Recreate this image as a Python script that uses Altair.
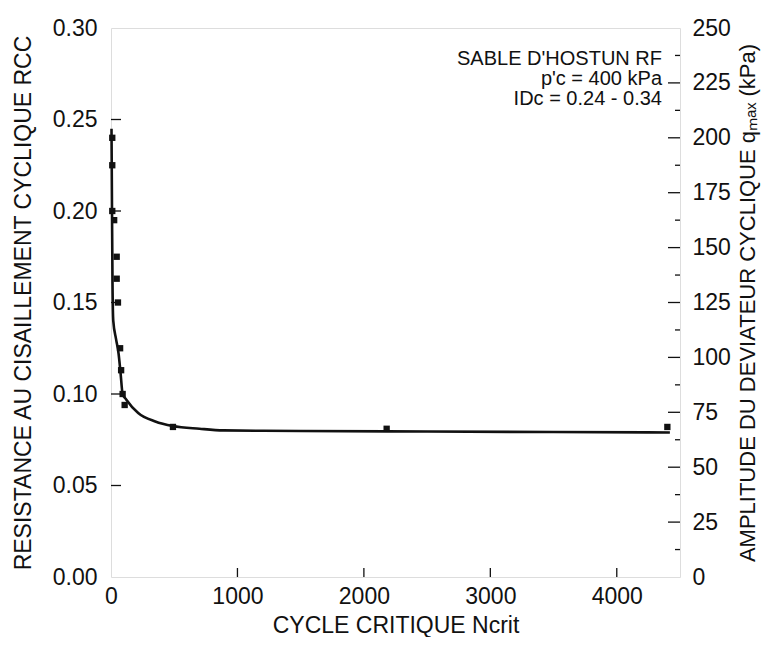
import altair as alt
import pandas as pd

# ---- data ----
pts_n = [10, 10, 10, 25, 45, 45, 55, 72, 80, 92, 108, 490, 2180, 4400]
pts_r = [0.240, 0.225, 0.200, 0.195, 0.175, 0.163, 0.150, 0.125, 0.113, 0.100, 0.094, 0.082, 0.081, 0.082]

crv_n = [4, 8, 12, 18, 40, 60, 75, 92, 120, 215, 350, 490, 700, 890, 1500, 2500, 3500, 4420]
crv_r = [0.245, 0.200, 0.160, 0.140, 0.130, 0.122, 0.112, 0.100, 0.097, 0.0896, 0.085, 0.0825,
         0.081, 0.0801, 0.0798, 0.0795, 0.0792, 0.079]

x_ticks = [0, 1000, 2000, 3000, 4000]
x_inner_ticks = [1000, 2000, 3000, 4000]
y_ticks = [0.00, 0.05, 0.10, 0.15, 0.20, 0.25, 0.30]
y_inner_ticks = [0.05, 0.10, 0.15, 0.20, 0.25]
q_ticks = [0, 25, 50, 75, 100, 125, 150, 175, 200, 225, 250]
q_major_inner = [25, 50, 75, 100, 125, 150, 175, 200, 225]
q_minor_inner = [12.5, 37.5, 62.5, 87.5, 112.5, 137.5, 162.5, 187.5, 212.5, 237.5]

notes = ["SABLE D'HOSTUN RF", "p'c = 400 kPa", "IDc = 0.24 - 0.34"]

W, H = 569, 549
FONT = "Liberation Sans"
INK = "#111111"

xscale = alt.Scale(domain=[0, 4500], nice=False, zero=False)
yscale = alt.Scale(domain=[0, 0.30], nice=False, zero=False)
qscale = alt.Scale(domain=[0, 250], nice=False, zero=False)

x_axis = alt.Axis(orient="bottom", values=x_ticks, format="d", ticks=False, domain=False, grid=False,
                  labelFlush=False, labelFont=FONT, labelFontSize=23, labelColor=INK, labelPadding=8,
                  title="CYCLE CRITIQUE Ncrit", titleFont=FONT, titleFontSize=23,
                  titleFontWeight="normal", titleColor=INK, titlePadding=6)
y_axis = alt.Axis(orient="left", values=y_ticks, format=".2f", ticks=False, domain=False, grid=False,
                  labelFlush=False, labelFont=FONT, labelFontSize=23, labelColor=INK, labelPadding=14,
                  title="RESISTANCE AU CISAILLEMENT CYCLIQUE RCC", titleFont=FONT, titleFontSize=23,
                  titleFontWeight="normal", titleColor=INK, titlePadding=17)
q_axis = alt.Axis(orient="right", values=q_ticks, format="d", ticks=False, domain=False, grid=False,
                  labelFlush=False, labelFont=FONT, labelFontSize=23, labelColor=INK, labelPadding=12,
                  title="AMPLITUDE DU DEVIATEUR CYCLIQUE q\u2098\u2090\u2093 (kPa)", titleFont=FONT,
                  titleFontSize=22, titleFontWeight="normal", titleColor=INK, titlePadding=7,
                  titleAngle=270, titleBaseline="top")

pts_df = pd.DataFrame({"n": pts_n, "r": pts_r})
crv_df = pd.DataFrame({"n": crv_n, "r": crv_r})

X = alt.X("n:Q", scale=xscale, axis=x_axis)
Y = alt.Y("r:Q", scale=yscale, axis=y_axis)

left_ticks = alt.Chart(pd.DataFrame({"r": y_inner_ticks})).mark_rule(color=INK, strokeWidth=1.3).encode(
    y=Y, x=alt.value(0), x2=alt.value(10))
bottom_ticks = alt.Chart(pd.DataFrame({"n": x_inner_ticks})).mark_rule(color=INK, strokeWidth=1.3).encode(
    x=X, y=alt.value(H), y2=alt.value(H - 9))
curve = alt.Chart(crv_df).mark_line(color=INK, strokeWidth=2.6, interpolate="monotone").encode(x=X, y=Y)
points = alt.Chart(pts_df).mark_square(color=INK, size=40, opacity=1).encode(x=X, y=Y)

left_layer = alt.layer(left_ticks, bottom_ticks, curve, points)

Q = alt.Y("q:Q", scale=qscale, axis=q_axis)
right_major = alt.Chart(pd.DataFrame({"q": q_major_inner})).mark_rule(color=INK, strokeWidth=1.3).encode(
    y=Q, x=alt.value(W), x2=alt.value(W - 12))
right_minor = alt.Chart(pd.DataFrame({"q": q_minor_inner})).mark_rule(color=INK, strokeWidth=1.3).encode(
    y=Q, x=alt.value(W), x2=alt.value(W - 5))

note_df = pd.DataFrame({"t": notes, "row": [0, 1, 2]})
note_text = alt.Chart(note_df).mark_text(align="right", baseline="middle", font=FONT, fontSize=20,
                                         color=INK).encode(
    text="t:N",
    x=alt.value(551),
    y=alt.Y("row:O", scale=alt.Scale(domain=[0, 1, 2], range=[21, 81]), axis=None),
)

right_layer = alt.layer(right_major, right_minor)

chart = alt.layer(left_layer, right_layer, note_text).resolve_scale(y="independent").properties(
    width=W, height=H,
    padding={"left": 103, "top": 20, "right": 82, "bottom": 60},
    autosize=alt.AutoSizeParams(type="none"),
).configure_view(stroke=INK, strokeWidth=1.5).configure(background="white")

chart.save("out.html", embed_options={"renderer": "svg", "actions": False})
